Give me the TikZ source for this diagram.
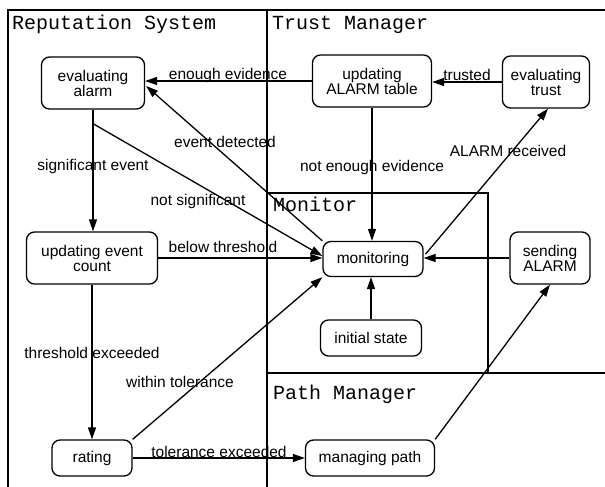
\documentclass[tikz,border=0pt]{standalone}
\usepackage{fontspec}
\setmainfont{Liberation Sans}
\newfontfamily\monofont{Liberation Mono}
\usetikzlibrary{arrows.meta,calc}
\tikzset{
  state/.style={draw, line width=1.3pt, rounded corners=8pt, align=center, inner sep=0pt,
    font=\fontsize{15.5}{15}\selectfont},
  lbl/.style={anchor=base, inner sep=0pt, font=\fontsize{15.5}{15}\selectfont},
  title/.style={anchor=base west, inner sep=0pt, font=\fontsize{20}{20}\monofont},
  frame/.style={line width=1.6pt},
  tr/.style={line width=1.3pt, -{Triangle[length=12pt,width=8pt]}},
  plain/.style={line width=1.3pt}
}
\begin{document}
\begin{tikzpicture}[x=1pt,y=-1pt]
\useasboundingbox (0,0) rectangle (605,487);
% frame
\draw[frame] (605,10) -- (8,10) -- (8,487);
\draw[frame] (267,10) -- (267,487);
\draw[frame] (267,193) -- (488,193) -- (488,373);
\draw[frame] (267,373) -- (605,373);
\node[title] (t1) at (12,30) {Reputation System};
\node[title] (t2) at (272,30) {Trust Manager};
\node[title] (t3) at (273,211) {Monitor};
\node[title] (t4) at (273,399) {Path Manager};
% states
\node[state, minimum width=103pt, minimum height=52pt] (ea) at (93,83) {evaluating\\alarm};
\node[state, minimum width=119pt, minimum height=52pt] (uat) at (372,81) {updating\\ALARM table};
\node[state, minimum width=87pt, minimum height=52pt] (et) at (546,82) {evaluating\\trust};
\node[state, minimum width=131pt, minimum height=52pt] (uec) at (92,258) {updating event\\count};
\node[state, minimum width=100pt, minimum height=35pt] (mon) at (373,259) {monitoring};
\node[state, minimum width=80pt, minimum height=52pt] (sa) at (550,258) {sending\\ALARM};
\node[state, minimum width=101pt, minimum height=36pt] (is) at (371,338) {initial state};
\node[state, minimum width=80pt, minimum height=36pt] (rat) at (92,458) {rating};
\node[state, minimum width=129pt, minimum height=36pt] (mp) at (370,458) {managing path};
% transitions
\draw[tr] (uat.west) -- (uat.west -| ea.east);
\draw[tr] (et.west) -- (et.west -| uat.east);
\draw[tr] (uat.south) -- (uat.south |- mon.north);
\draw[tr] (mon.north west) -- ($(ea.east)+(1,3)$);
\draw[tr] (ea.south) -- (ea.south |- uec.north);
\coordinate (ns) at ($(ea.south)+(0,14)$);
\draw[tr] (ns) -- ($(mon.west)+(0,-3)$);
\draw[tr] (uec.east) -- (uec.east -| mon.west);
\draw[tr] (uec.south) -- (uec.south |- rat.north);
\draw[tr] (rat.north east) -- (mon.south west);
\draw[tr] (rat.east) -- (rat.east -| mp.west);
\draw[tr] (mp.north east) -- (sa.south);
\draw[tr] (sa.west) -- (sa.west -| mon.east);
\draw[tr] ($(mon.east)+(2,-5)$) -- ($(et.south)+(2,0)$);
\draw[tr] (is.north) -- (is.north |- mon.south);
% labels
\node[lbl] (l1) at (228,80) {enough evidence};
\node[lbl] (l2) at (467,81) {trusted};
\node[lbl] (l3) at (225,147) {event detected};
\node[lbl] (l4) at (93,170) {significant event};
\node[lbl] (l5) at (198,205) {not significant};
\node[lbl] (l6) at (372,171) {not enough evidence};
\node[lbl] (l7) at (508,156) {ALARM received};
\node[lbl] (l8) at (223,252) {below threshold};
\node[lbl] (l9) at (92,358) {threshold exceeded};
\node[lbl] (l10) at (180,387) {within tolerance};
\node[lbl] (l11) at (219,457) {tolerance exceeded};
\end{tikzpicture}
\end{document}
